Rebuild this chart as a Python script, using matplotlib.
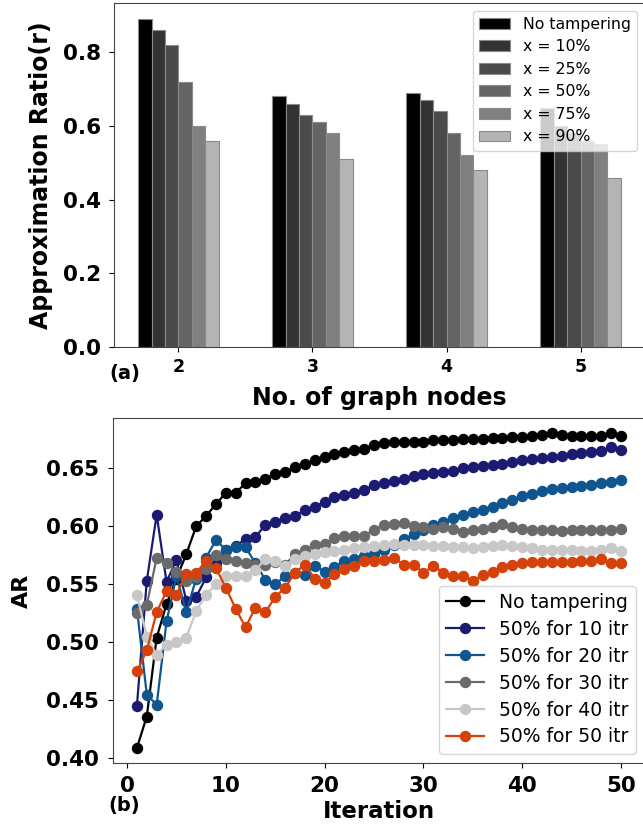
import matplotlib
matplotlib.use("Agg")
import matplotlib.pyplot as plt
import numpy as np

# ---------------- data: panel (a) ----------------
nodes = [2, 3, 4, 5]
bar_labels = ["No tampering", "x = 10%", "x = 25%", "x = 50%", "x = 75%", "x = 90%"]
bar_no_tamper = [0.89, 0.68, 0.69, 0.65]
bar_x10 = [0.86, 0.66, 0.67, 0.60]
bar_x25 = [0.82, 0.63, 0.64, 0.58]
bar_x50 = [0.72, 0.61, 0.58, 0.56]
bar_x75 = [0.60, 0.58, 0.52, 0.55]
bar_x90 = [0.56, 0.51, 0.48, 0.46]
bar_colors = ["#000000", "#333333", "#4a4a4a", "#646464", "#808080", "#b4b4b4"]

# ---------------- data: panel (b) ----------------
iterations = list(range(1, 51))
no_tampering = [0.409, 0.436, 0.504, 0.533, 0.555, 0.576, 0.600, 0.609, 0.619, 0.629,
                0.629, 0.637, 0.638, 0.641, 0.645, 0.647, 0.651, 0.654, 0.657, 0.660,
                0.662, 0.664, 0.666, 0.667, 0.670, 0.672, 0.673, 0.673, 0.673, 0.673,
                0.674, 0.674, 0.674, 0.675, 0.675, 0.675, 0.676, 0.676, 0.677, 0.677,
                0.678, 0.679, 0.680, 0.679, 0.678, 0.678, 0.678, 0.678, 0.680, 0.678]
itr10 = [0.445, 0.553, 0.610, 0.552, 0.571, 0.536, 0.539, 0.556, 0.568, 0.580,
         0.583, 0.589, 0.591, 0.601, 0.604, 0.607, 0.609, 0.614, 0.617, 0.621,
         0.625, 0.627, 0.629, 0.631, 0.636, 0.637, 0.639, 0.641, 0.643, 0.645,
         0.646, 0.647, 0.648, 0.650, 0.651, 0.652, 0.653, 0.654, 0.655, 0.657,
         0.658, 0.659, 0.660, 0.661, 0.662, 0.663, 0.664, 0.665, 0.668, 0.666]
itr20 = [0.529, 0.455, 0.446, 0.518, 0.557, 0.526, 0.555, 0.573, 0.588, 0.580,
         0.582, 0.582, 0.568, 0.554, 0.550, 0.557, 0.560, 0.558, 0.566, 0.561,
         0.565, 0.570, 0.572, 0.574, 0.576, 0.580, 0.584, 0.589, 0.593, 0.597,
         0.601, 0.604, 0.607, 0.610, 0.612, 0.614, 0.617, 0.620, 0.623, 0.626,
         0.628, 0.630, 0.632, 0.633, 0.634, 0.635, 0.636, 0.637, 0.638, 0.640]
itr30 = [0.525, 0.532, 0.573, 0.568, 0.561, 0.553, 0.556, 0.563, 0.575, 0.572,
         0.570, 0.568, 0.567, 0.567, 0.569, 0.567, 0.576, 0.580, 0.584, 0.585,
         0.590, 0.592, 0.592, 0.592, 0.597, 0.601, 0.602, 0.603, 0.600, 0.599,
         0.598, 0.599, 0.598, 0.595, 0.597, 0.598, 0.599, 0.602, 0.599, 0.598,
         0.597, 0.597, 0.597, 0.596, 0.597, 0.597, 0.597, 0.597, 0.597, 0.598]
itr40 = [0.541, 0.505, 0.489, 0.498, 0.500, 0.504, 0.527, 0.541, 0.550, 0.557,
         0.557, 0.557, 0.562, 0.572, 0.570, 0.566, 0.572, 0.574, 0.576, 0.578,
         0.579, 0.580, 0.581, 0.582, 0.583, 0.584, 0.585, 0.584, 0.584, 0.584,
         0.583, 0.583, 0.582, 0.582, 0.581, 0.582, 0.583, 0.584, 0.583, 0.582,
         0.581, 0.580, 0.580, 0.580, 0.580, 0.579, 0.579, 0.580, 0.581, 0.579]
itr50 = [0.475, 0.493, 0.526, 0.544, 0.541, 0.559, 0.560, 0.570, 0.564, 0.547,
         0.529, 0.513, 0.530, 0.526, 0.539, 0.547, 0.560, 0.567, 0.555, 0.551,
         0.559, 0.563, 0.566, 0.570, 0.570, 0.571, 0.573, 0.567, 0.567, 0.560,
         0.566, 0.560, 0.557, 0.557, 0.553, 0.558, 0.561, 0.565, 0.567, 0.568,
         0.569, 0.569, 0.569, 0.569, 0.569, 0.570, 0.570, 0.572, 0.568, 0.568]
line_labels = ["No tampering", "50% for 10 itr", "50% for 20 itr",
               "50% for 30 itr", "50% for 40 itr", "50% for 50 itr"]
line_colors = ["#000000", "#1b1b72", "#11558f", "#6a6a6a", "#c8c8c8", "#d4410b"]

# ---------------- figure ----------------
W, H = 643, 831
fig = plt.figure(figsize=(W / 100, H / 100), dpi=100)

spine_col = "#444444"

# panel (a)
ax1 = fig.add_axes([114 / W, 1 - 347 / H, (645 - 114) / W, (347 - 2.7) / H])
series = [bar_no_tamper, bar_x10, bar_x25, bar_x50, bar_x75, bar_x90]
width = 0.1
xs = np.array(nodes, dtype=float)
for k, (vals, lab, col) in enumerate(zip(series, bar_labels, bar_colors)):
    ax1.bar(xs + (k - 2.5) * width, vals, width=width, color=col,
            edgecolor="#8a8a8a", linewidth=0.8, label=lab)
ax1.set_xlim(1.52, 5.48)
ax1.set_ylim(0, 0.9345)
ax1.set_xticks(nodes)
ax1.set_xticklabels([str(n) for n in nodes], fontsize=12.5, fontweight="bold")
ax1.set_yticks([0.0, 0.2, 0.4, 0.6, 0.8])
ax1.set_yticklabels(["0.0", "0.2", "0.4", "0.6", "0.8"], fontsize=15.5, fontweight="bold")
ax1.tick_params(axis="y", pad=6)
ax1.tick_params(axis="x", pad=4.5)
ax1.set_xlabel("No. of graph nodes", fontsize=17, fontweight="bold", labelpad=7)
ax1.set_ylabel("Approximation Ratio(r)", fontsize=17, fontweight="bold", labelpad=7)
ax1.legend(loc="upper right", fontsize=11.3, labelspacing=0.48)
for s in ax1.spines.values():
    s.set_color(spine_col)

# panel (b)
ax2 = fig.add_axes([112.7 / W, 1 - 763.3 / H, (645.2 - 112.7) / W, (763.3 - 418.3) / H])
all_lines = [no_tampering, itr10, itr20, itr30, itr40, itr50]
for vals, lab, col in zip(all_lines, line_labels, line_colors):
    ax2.plot(iterations, vals, color=col, marker="o", markersize=7.2,
             linewidth=1.6, label=lab)
ax2.set_xlim(-1.45, 52.45)
ax2.set_ylim(0.3957, 0.6931)
ax2.set_xticks([0, 10, 20, 30, 40, 50])
ax2.set_xticklabels(["0", "10", "20", "30", "40", "50"], fontsize=15.5, fontweight="bold")
yt = [0.40, 0.45, 0.50, 0.55, 0.60, 0.65]
ax2.set_yticks(yt)
ax2.set_yticklabels([f"{v:.2f}" for v in yt], fontsize=15.5, fontweight="bold")
ax2.tick_params(axis="y", pad=6.5)
ax2.tick_params(axis="x", pad=5.5)
ax2.set_xlabel("Iteration", fontsize=16.5, fontweight="bold", labelpad=3)
ax2.set_ylabel("AR", fontsize=16, fontweight="bold", labelpad=10)
ax2.legend(loc="lower right", fontsize=13.5, labelspacing=0.42, handlelength=2.0)
for s in ax2.spines.values():
    s.set_color(spine_col)

fig.text(125 / W, 1 - 373 / H, "(a)", fontsize=14, fontweight="bold",
         ha="center", va="center")
fig.text(124 / W, 1 - 806 / H, "(b)", fontsize=14, fontweight="bold",
         ha="center", va="center")

fig.savefig("out.png", dpi=100)
